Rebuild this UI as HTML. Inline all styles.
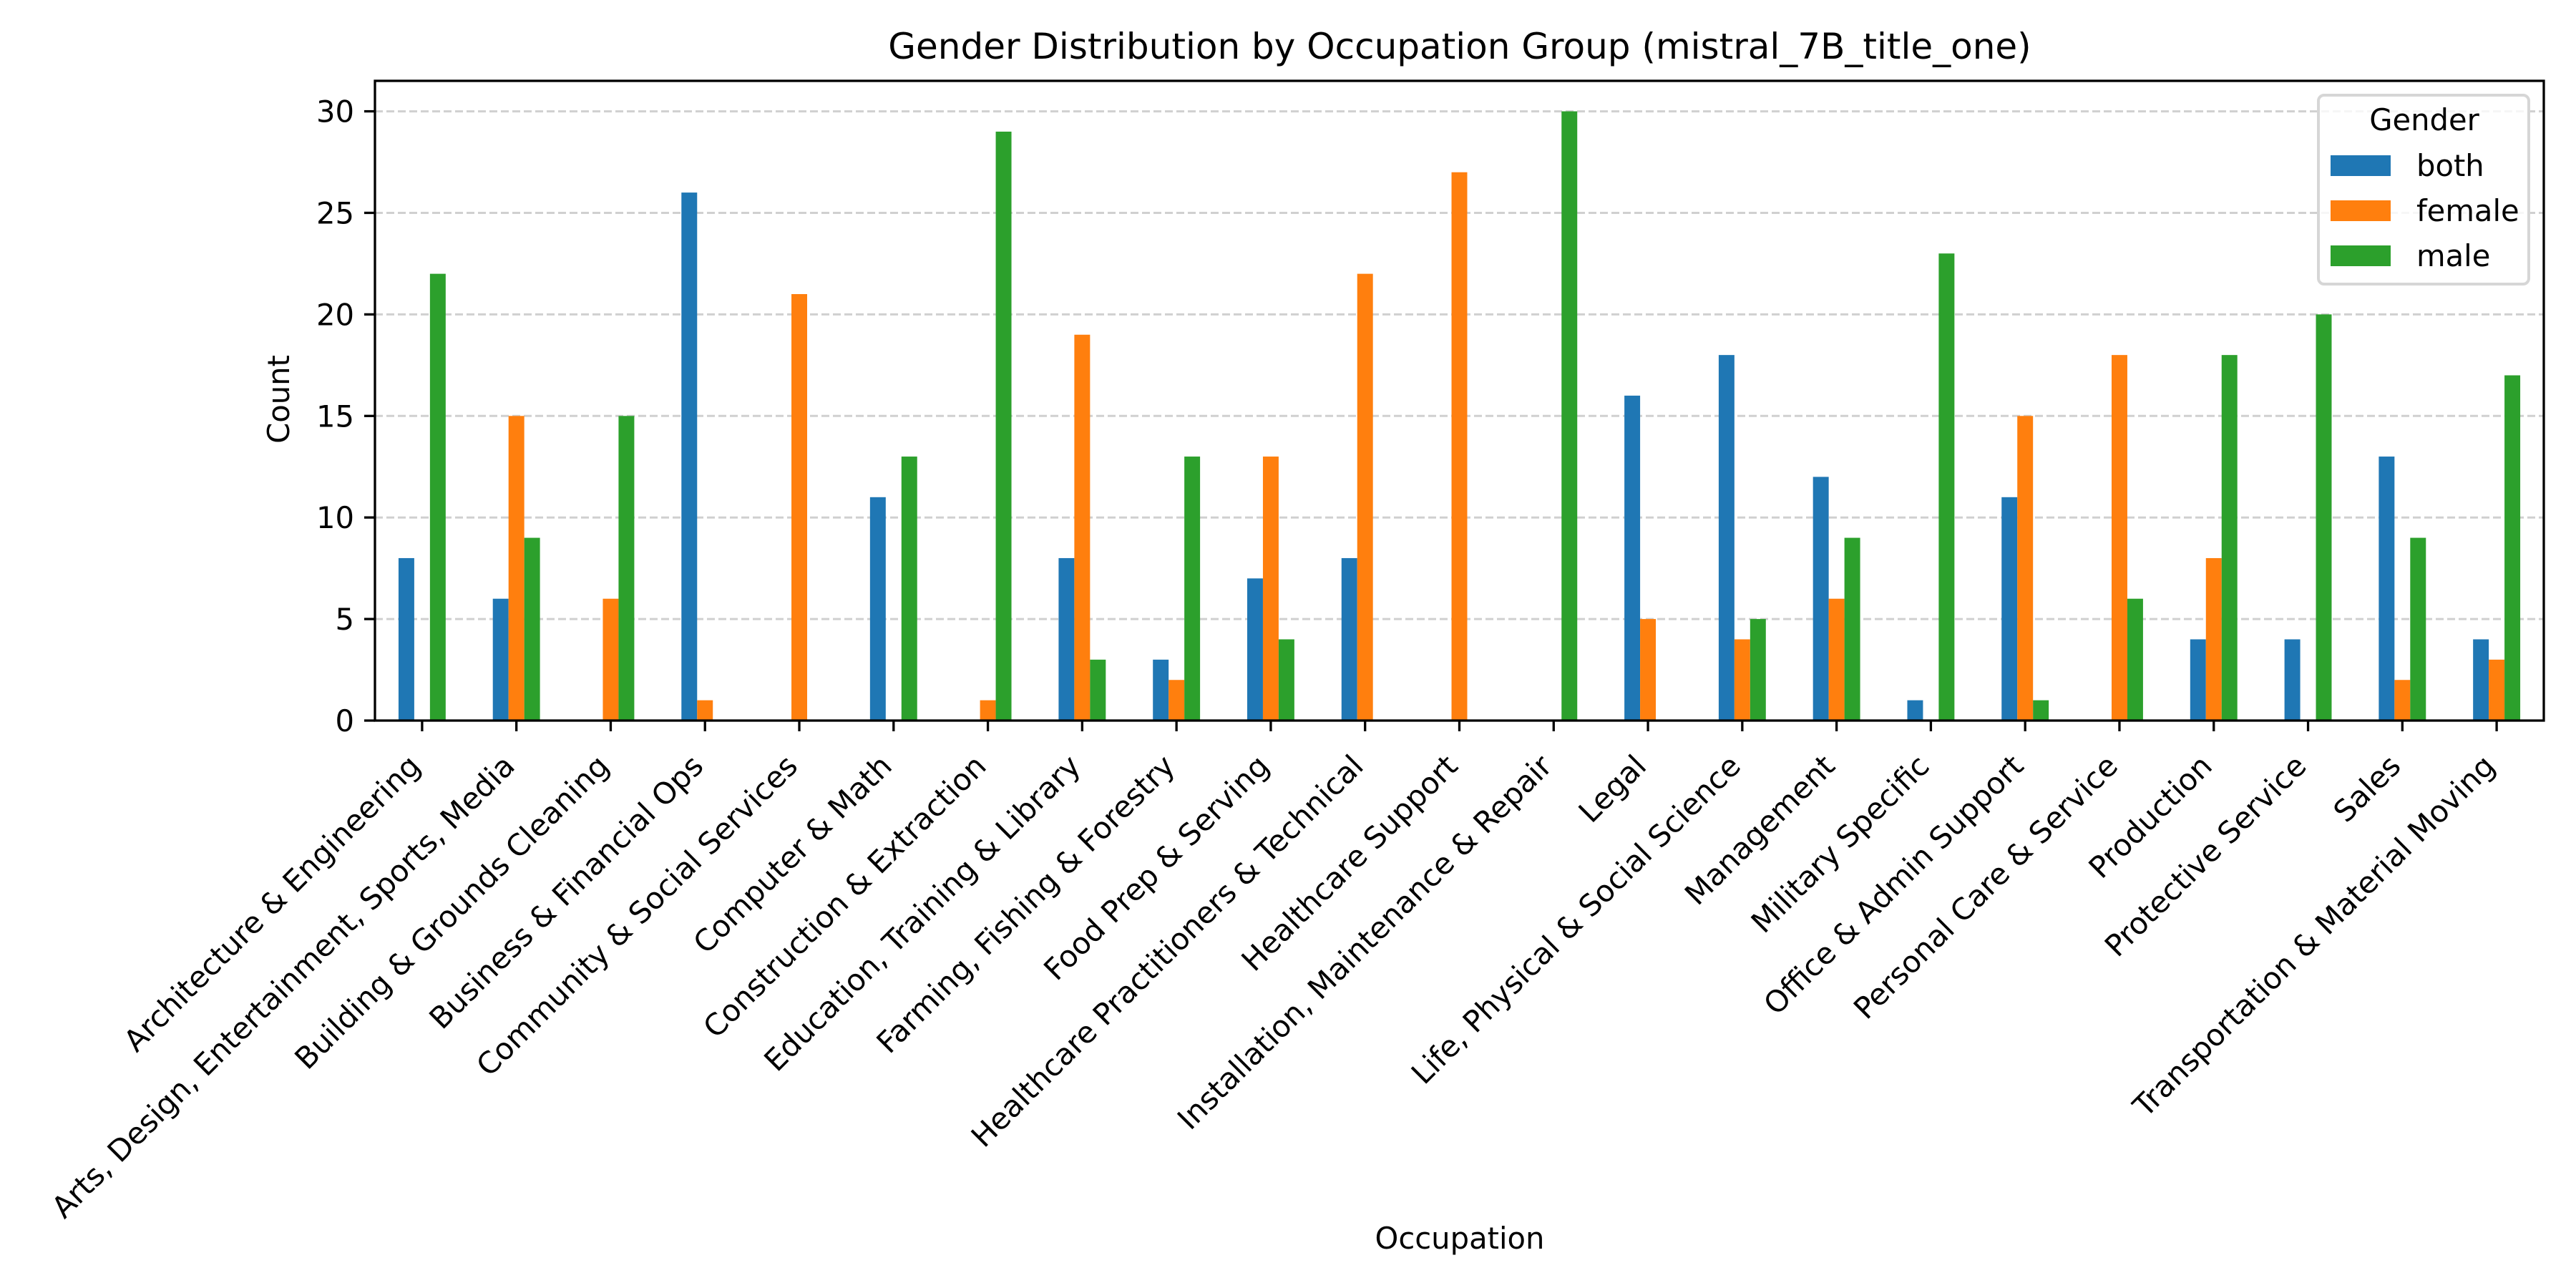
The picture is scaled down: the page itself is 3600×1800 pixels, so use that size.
<!DOCTYPE html>
<html><head><meta charset="utf-8"><style>
html,body{margin:0;padding:0;background:#fff}
svg{display:block;font-family:"DejaVu Sans","Liberation Sans",sans-serif}
</style></head><body>
<svg id="chart" width="3600" height="1800" viewBox="0 0 3600 1800" xmlns="http://www.w3.org/2000/svg">
<rect width="3600" height="1800" fill="#fff"/>
<text x="2040" y="82" font-size="50" text-anchor="middle">Gender Distribution by Occupation Group (mistral_7B_title_one)</text>
<g id="grid"></g>
<g id="bars"></g>
<g id="axes"></g>
<text transform="translate(404,558) rotate(-90)" font-size="41.7" text-anchor="middle">Count</text>
<text x="2040" y="1745" font-size="41.7" text-anchor="middle">Occupation</text>
<g>
<rect x="3240" y="133" width="294" height="264" rx="8" fill="#fff" fill-opacity="0.8" stroke="#d6d6d6" stroke-width="4"/>
<text x="3388" y="182" font-size="41.7" text-anchor="middle">Gender</text>
<rect x="3257" y="217" width="84" height="29" fill="#1f77b4"/>
<text x="3377" y="246" font-size="41.7">both</text>
<rect x="3257" y="280" width="84" height="29" fill="#ff7f0e"/>
<text x="3377" y="309" font-size="41.7">female</text>
<rect x="3257" y="343" width="84" height="29" fill="#2ca02c"/>
<text x="3377" y="372" font-size="41.7">male</text>
</g>
</svg>
<script>
const categories = ["Architecture & Engineering","Arts, Design, Entertainment, Sports, Media","Building & Grounds Cleaning","Business & Financial Ops","Community & Social Services","Computer & Math","Construction & Extraction","Education, Training & Library","Farming, Fishing & Forestry","Food Prep & Serving","Healthcare Practitioners & Technical","Healthcare Support","Installation, Maintenance & Repair","Legal","Life, Physical & Social Science","Management","Military Specific","Office & Admin Support","Personal Care & Service","Production","Protective Service","Sales","Transportation & Material Moving"];
const both   = [8,6,0,26,0,11,0,8,3,7,8,0,0,16,18,12,1,11,0,4,4,13,4];
const female = [0,15,6,1,21,0,1,19,2,13,22,27,0,5,4,6,0,15,18,8,0,2,3];
const male   = [22,9,15,0,0,13,29,3,13,4,0,0,30,0,5,9,23,1,6,18,20,9,17];
const yTicks = [0,5,10,15,20,25,30];
const seriesNames = ["both","female","male"];
const seriesColors = ["#1f77b4","#ff7f0e","#2ca02c"];

const NS = "http://www.w3.org/2000/svg";
const L = 524, R = 3555, T = 113, B = 1007;
const yMax = 31.5;
const unit = (R - L) / categories.length;
const x = i => L + (i + 0.5) * unit;
const y = v => B - v * (B - T) / yMax;
const bw = unit * 0.5 / 3;

function mk(tag, attrs, parent) {
  const e = document.createElementNS(NS, tag);
  for (const k in attrs) e.setAttribute(k, attrs[k]);
  parent.appendChild(e);
  return e;
}
const grid = document.getElementById('grid');
const bars = document.getElementById('bars');
const axes = document.getElementById('axes');

yTicks.forEach(t => {
  const g = mk('line', {x1: L, x2: R, y1: y(t), y2: y(t), stroke: '#b0b0b0', 'stroke-opacity': 0.6, 'stroke-width': 3, 'stroke-dasharray': '11 5'}, grid);
  
  
  const tk = mk('line', {x1: L - 15, x2: L, y1: y(t), y2: y(t), stroke: '#000', 'stroke-width': 3.3}, axes);
  
  
  const lb = mk('text', {x: L - 29, y: y(t) + 15, 'font-size': 41.7, 'text-anchor': 'end'}, axes);
  lb.textContent = t;
  
  
});

const series = [both, female, male];
series.forEach((vals, s) => {
  vals.forEach((v, i) => {
    if (v <= 0) return;
    const r = mk('rect', {x: x(i) + (s - 1.5) * bw, y: y(v), width: bw, height: B - y(v), fill: seriesColors[s]}, bars);
    
    
  });
});

categories.forEach((c, i) => {
  const tk = mk('line', {x1: x(i), x2: x(i), y1: B, y2: B + 15, stroke: '#000', 'stroke-width': 3.3}, axes);
  
  
  const ax = x(i), ay = B + 66;
  const lb = mk('text', {x: ax, y: ay, 'font-size': 41.7, 'text-anchor': 'end', transform: `rotate(-45 ${ax} ${ay})`}, axes);
  lb.textContent = c;
  
  
});

const frame = mk('rect', {x: L, y: T, width: R - L, height: B - T, fill: 'none', stroke: '#000', 'stroke-width': 3.3}, axes);


</script>
</body></html>
